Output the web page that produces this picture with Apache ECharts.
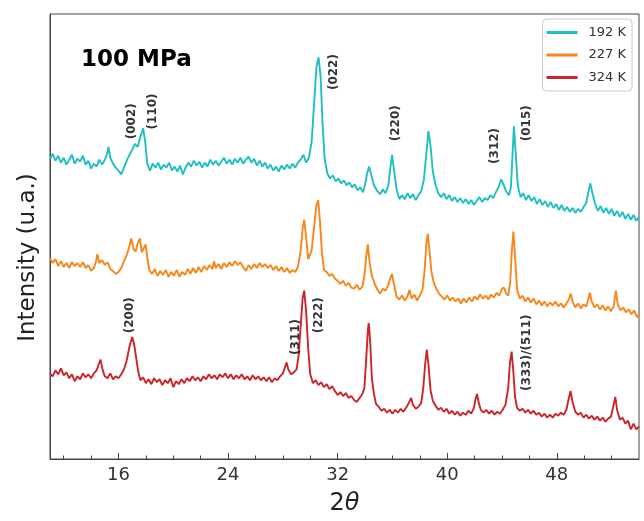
<!DOCTYPE html>
<html>
<head>
<meta charset="utf-8">
<script src="https://cdn.jsdelivr.net/npm/echarts@6/dist/echarts.min.js"></script>
<style>
html,body{margin:0;padding:0;background:#fff;}
#chart{width:644px;height:521px;}
</style>
</head>
<body>
<div id="chart"></div>
<script>
// ---- data (2θ in degrees, intensity in arbitrary units) ----
const seriesNames = ['192 K', '227 K', '324 K'];
const seriesColors = ['#1fbfc3', '#f8861a', '#cc2529'];

const theta192 = [11.0,11.2,11.4,11.6,11.8,12.0,12.2,12.4,12.6,12.8,13.0,13.2,13.4,13.6,13.8,14.0,14.2,14.4,14.6,14.8,15.0,15.15,15.27,15.4,15.6,15.8,16.0,16.2,16.4,16.6,16.8,17.0,17.2,17.4,17.6,17.8,17.95,18.1,18.3,18.5,18.7,18.9,19.1,19.3,19.5,19.7,19.9,20.1,20.3,20.5,20.7,20.9,21.1,21.3,21.5,21.7,21.9,22.1,22.3,22.5,22.7,22.9,23.1,23.3,23.5,23.7,23.9,24.1,24.3,24.5,24.7,24.9,25.1,25.3,25.5,25.7,25.9,26.1,26.3,26.5,26.7,26.9,27.1,27.3,27.5,27.7,27.9,28.1,28.3,28.5,28.7,28.9,29.1,29.3,29.5,29.7,29.9,30.1,30.3,30.45,30.6,30.75,30.9,31.05,31.25,31.45,31.65,31.85,32.05,32.25,32.45,32.65,32.85,33.05,33.25,33.45,33.65,33.85,34.0,34.15,34.3,34.45,34.65,34.9,35.1,35.3,35.5,35.7,35.85,35.97,36.1,36.3,36.5,36.7,36.9,37.1,37.3,37.5,37.7,37.9,38.1,38.3,38.5,38.63,38.78,38.95,39.15,39.35,39.55,39.75,39.95,40.15,40.35,40.55,40.75,40.95,41.15,41.35,41.55,41.75,41.95,42.15,42.35,42.55,42.75,42.95,43.15,43.35,43.55,43.75,43.94,44.1,44.3,44.5,44.65,44.75,44.87,45.0,45.15,45.35,45.55,45.75,45.95,46.15,46.35,46.55,46.75,46.95,47.15,47.35,47.55,47.75,47.95,48.15,48.35,48.55,48.75,48.95,49.15,49.35,49.55,49.75,49.95,50.15,50.3,50.45,50.6,50.8,51.0,51.2,51.4,51.6,51.8,52.0,52.2,52.4,52.6,52.8,53.0,53.2,53.4,53.6,53.8,54.0];
const int192 = [305,310,303,308,301,306,299,304,309,300,305,302,308,299,303,295,300,297,304,299,304,309,317,306,300,296,293,289,296,303,309,314,320,317,327,336,322,300,293,300,296,301,294,299,296,301,293,297,292,298,289,296,301,297,303,298,302,296,301,297,304,299,303,298,302,306,300,304,299,305,301,306,300,304,307,301,305,298,303,297,301,295,299,293,297,292,298,294,299,295,300,296,301,304,309,301,306,322,365,398,408,390,340,305,290,285,288,282,285,280,283,278,281,276,279,273,276,271,279,290,297,289,278,272,269,274,270,278,296,309,295,274,264,268,264,270,265,269,263,268,272,284,314,333,318,292,278,270,266,270,264,268,262,266,261,265,260,264,259,263,258,262,266,261,265,263,268,265,271,276,284,279,272,268,276,305,338,310,278,266,270,263,268,262,266,259,264,258,262,256,261,255,259,253,258,252,256,251,255,250,254,251,256,260,271,280,270,259,252,257,250,255,249,254,247,252,246,251,244,249,243,248,242,246];

const theta227 = [11.0,11.2,11.4,11.6,11.8,12.0,12.2,12.4,12.6,12.8,13.0,13.2,13.4,13.6,13.8,14.0,14.2,14.35,14.45,14.6,14.8,15.0,15.2,15.4,15.6,15.8,16.0,16.2,16.4,16.6,16.8,16.93,17.1,17.25,17.4,17.56,17.7,17.85,17.98,18.1,18.25,18.45,18.65,18.85,19.05,19.25,19.45,19.65,19.85,20.05,20.25,20.45,20.65,20.85,21.05,21.25,21.45,21.65,21.85,22.05,22.25,22.45,22.65,22.85,22.98,23.1,23.3,23.5,23.7,23.9,24.1,24.3,24.5,24.7,24.9,25.1,25.3,25.5,25.7,25.9,26.1,26.3,26.5,26.7,26.9,27.1,27.3,27.5,27.7,27.9,28.1,28.3,28.5,28.7,28.9,29.1,29.3,29.45,29.56,29.7,29.85,29.97,30.1,30.3,30.45,30.58,30.72,30.85,31.0,31.2,31.4,31.6,31.8,32.0,32.2,32.4,32.6,32.8,33.0,33.2,33.4,33.6,33.8,33.95,34.08,34.2,34.33,34.5,34.7,34.9,35.1,35.3,35.5,35.7,35.85,35.97,36.1,36.3,36.5,36.7,36.9,37.1,37.24,37.4,37.6,37.8,38.0,38.2,38.35,38.47,38.58,38.7,38.85,39.0,39.2,39.4,39.6,39.8,40.0,40.2,40.4,40.6,40.8,41.0,41.2,41.4,41.6,41.8,42.0,42.2,42.4,42.6,42.8,43.0,43.2,43.4,43.6,43.8,44.0,44.15,44.3,44.45,44.6,44.72,44.83,44.95,45.1,45.3,45.5,45.7,45.9,46.1,46.3,46.5,46.7,46.9,47.1,47.3,47.5,47.7,47.9,48.1,48.3,48.5,48.7,48.88,49.02,49.15,49.35,49.55,49.75,49.95,50.15,50.3,50.41,50.55,50.75,50.95,51.15,51.35,51.55,51.75,51.95,52.15,52.31,52.45,52.65,52.85,53.05,53.25,53.45,53.65,53.85,54.0];
const int227 = [204,199,203,196,201,195,199,194,200,196,199,195,200,194,197,191,194,200,208,199,202,197,200,193,191,188,190,194,201,207,216,224,213,211,219,224,210,214,218,205,192,188,193,186,191,187,192,185,190,186,192,185,190,187,193,188,194,189,195,190,196,192,197,193,201,194,198,193,199,195,200,196,201,197,200,195,191,197,193,198,194,199,195,198,194,197,192,196,191,195,190,194,189,192,190,195,212,235,243,225,203,201,212,238,258,263,240,210,192,190,186,188,183,181,178,181,176,179,174,173,177,172,175,186,205,218,200,186,178,172,168,173,171,177,184,188,178,165,162,166,161,165,172,163,167,161,166,172,192,218,229,212,190,180,173,168,165,162,166,161,164,160,163,158,163,159,164,160,165,162,167,163,166,162,167,164,169,166,173,174,168,166,180,212,231,205,172,163,166,160,164,159,163,157,161,156,160,155,159,156,160,155,158,154,158,162,168,160,154,158,153,157,155,162,169,160,154,157,152,156,151,155,150,155,171,157,151,154,149,152,147,151,144,147];

const theta324 = [11.0,11.2,11.4,11.6,11.8,12.0,12.2,12.4,12.6,12.8,13.0,13.2,13.4,13.6,13.8,14.0,14.2,14.4,14.55,14.69,14.85,15.0,15.2,15.4,15.6,15.8,16.0,16.2,16.4,16.6,16.8,17.0,17.15,17.3,17.45,17.6,17.8,18.0,18.2,18.4,18.6,18.8,19.0,19.2,19.4,19.6,19.8,20.0,20.2,20.4,20.6,20.8,21.0,21.2,21.4,21.6,21.8,22.0,22.2,22.4,22.6,22.8,23.0,23.2,23.4,23.6,23.8,24.0,24.2,24.4,24.6,24.8,25.0,25.2,25.4,25.6,25.8,26.0,26.2,26.4,26.6,26.8,27.0,27.2,27.4,27.6,27.8,28.0,28.15,28.27,28.4,28.6,28.8,29.0,29.15,29.3,29.45,29.56,29.7,29.85,30.0,30.2,30.4,30.6,30.8,31.0,31.2,31.4,31.6,31.8,32.0,32.2,32.4,32.6,32.8,33.0,33.2,33.4,33.6,33.8,33.95,34.1,34.2,34.27,34.38,34.5,34.65,34.8,35.0,35.2,35.4,35.6,35.8,36.0,36.2,36.4,36.6,36.8,37.0,37.2,37.36,37.5,37.7,37.9,38.1,38.25,38.4,38.51,38.63,38.78,38.95,39.15,39.35,39.55,39.75,39.95,40.15,40.35,40.55,40.75,40.95,41.15,41.35,41.55,41.75,41.95,42.05,42.17,42.3,42.45,42.65,42.85,43.05,43.25,43.45,43.65,43.85,44.05,44.25,44.45,44.58,44.7,44.82,44.95,45.1,45.3,45.5,45.7,45.9,46.1,46.3,46.5,46.7,46.9,47.1,47.3,47.5,47.7,47.9,48.1,48.3,48.5,48.7,48.85,49.0,49.15,49.35,49.55,49.75,49.95,50.15,50.35,50.55,50.75,50.95,51.15,51.35,51.55,51.75,51.95,52.1,52.27,52.4,52.6,52.8,53.0,53.2,53.4,53.6,53.8,54.0];
const int324 = [87,84,90,86,92,85,88,82,86,79,84,81,87,83,86,82,87,90,96,101,90,84,82,87,81,84,82,86,91,100,114,124,116,102,88,80,83,77,81,76,82,78,81,75,80,77,82,73,79,76,81,77,82,79,84,80,83,79,84,81,86,82,85,81,86,83,87,82,86,81,85,82,86,81,84,80,85,81,84,80,83,79,83,78,82,80,84,87,93,98,91,86,88,91,105,135,164,171,150,112,86,77,80,75,78,73,76,71,74,69,65,68,64,67,62,64,60,58,62,66,72,105,130,138,118,82,66,56,53,49,51,47,50,46,50,47,51,48,52,57,62,55,51,53,57,72,98,111,96,70,59,54,50,52,48,51,46,49,45,48,44,47,45,49,46,52,60,66,57,50,47,50,46,49,45,48,46,50,55,72,98,109,90,63,52,49,51,47,50,46,49,45,47,43,46,42,45,42,46,44,47,45,50,60,69,58,48,45,47,42,45,41,44,40,43,39,42,38,41,43,52,63,50,40,42,36,39,30,36,30,33];

// peak annotations (hkl), anchored in data coordinates
const peakLabels = ['(002)', '(110)', '(022)', '(220)', '(312)', '(015)', '(200)', '(311)', '(222)', '(333)/(511)'];
const peakTheta  = [17.0, 18.49, 31.76, 36.27, 43.51, 45.78, 16.81, 28.98, 30.66, 45.78];
const peakInt    = [343, 353, 393, 341, 318, 341, 146, 124, 146, 108];

const xMajorTicks = [16, 24, 32, 40, 48];
const xMinorTicks = [12, 14, 18, 20, 22, 26, 28, 30, 34, 36, 38, 42, 44, 46, 50, 52];
const pressureLabel = '100 MPa';

// ---- chart ----
const FONT = 'DejaVu Sans';
const zip = (xs, ys) => xs.map((x, i) => [x, ys[i]]);
const lineData = [zip(theta192, int192), zip(theta227, int227), zip(theta324, int324)];

const chart = echarts.init(document.getElementById('chart'), null, {renderer: 'canvas'});
const series = seriesNames.map((name, i) => ({
  name: name,
  type: 'line',
  xAxisIndex: 0,
  data: lineData[i],
  symbol: 'none',
  lineStyle: {color: seriesColors[i], width: 1.9},
  itemStyle: {color: seriesColors[i]},
  emphasis: {disabled: true},
  z: 3 - i
}));
series.push({
  type: 'scatter',
  xAxisIndex: 0,
  data: peakLabels.map((t, i) => ({name: t, value: [peakTheta[i], peakInt[i]]})),
  symbolSize: 1,
  itemStyle: {color: 'rgba(0,0,0,0)'},
  silent: true,
  label: {
    show: true, position: 'inside', rotate: 90, formatter: '{b}',
    fontFamily: FONT, fontSize: 12, fontWeight: 'bold', color: '#000'
  },
  z: 5
});

chart.setOption({
  animation: false,
  backgroundColor: '#fff',
  title: {
    text: pressureLabel, left: 76, top: 44,
    textStyle: {fontFamily: FONT, fontSize: 23, fontWeight: 'bold', color: '#000'}
  },
  legend: {
    data: seriesNames,
    orient: 'vertical', right: 12, top: 19,
    icon: 'rect', itemWidth: 31, itemHeight: 3, itemGap: 7.5,
    padding: [6, 6, 6, 4],
    borderColor: '#cccccc', borderWidth: 1, borderRadius: 4,
    backgroundColor: '#fff',
    textStyle: {fontFamily: FONT, fontSize: 13, color: '#333', lineHeight: 15, padding: [0, 0, 0, 6]}
  },
  grid: {left: 50, right: 5, top: 14, bottom: 55, show: true, borderColor: '#444', borderWidth: 1},
  xAxis: [{
    type: 'value', min: 11, max: 54, position: 'bottom',
    axisLine: {lineStyle: {color: '#444'}},
    axisTick: {inside: true, length: 3.5, lineStyle: {color: '#444'}, customValues: xMinorTicks},
    axisLabel: {show: false},
    splitLine: {show: false}
  }, {
    type: 'value', min: 11, max: 54, position: 'bottom',
    axisLine: {show: false},
    axisTick: {inside: true, length: 6, lineStyle: {color: '#444'}, customValues: xMajorTicks},
    axisLabel: {customValues: xMajorTicks, fontFamily: FONT, fontSize: 18, color: '#333', margin: 7},
    splitLine: {show: false},
    name: '{n|2}{t|θ}', nameLocation: 'middle', nameGap: 33,
    nameTextStyle: {rich: {
      n: {fontFamily: FONT, fontSize: 24, color: '#222'},
      t: {fontFamily: FONT, fontSize: 24, fontStyle: 'italic', color: '#222'}
    }}
  }],
  yAxis: {
    type: 'value', min: 0, max: 452,
    axisLine: {show: true, lineStyle: {color: '#444'}},
    axisTick: {show: false}, axisLabel: {show: false}, splitLine: {show: false},
    name: 'Intensity (u.a.)', nameLocation: 'middle', nameGap: 10,
    nameTextStyle: {fontFamily: FONT, fontSize: 23, color: '#222', padding: [0, 42, 0, 0]}
  },
  series: series
});
</script>
</body>
</html>
